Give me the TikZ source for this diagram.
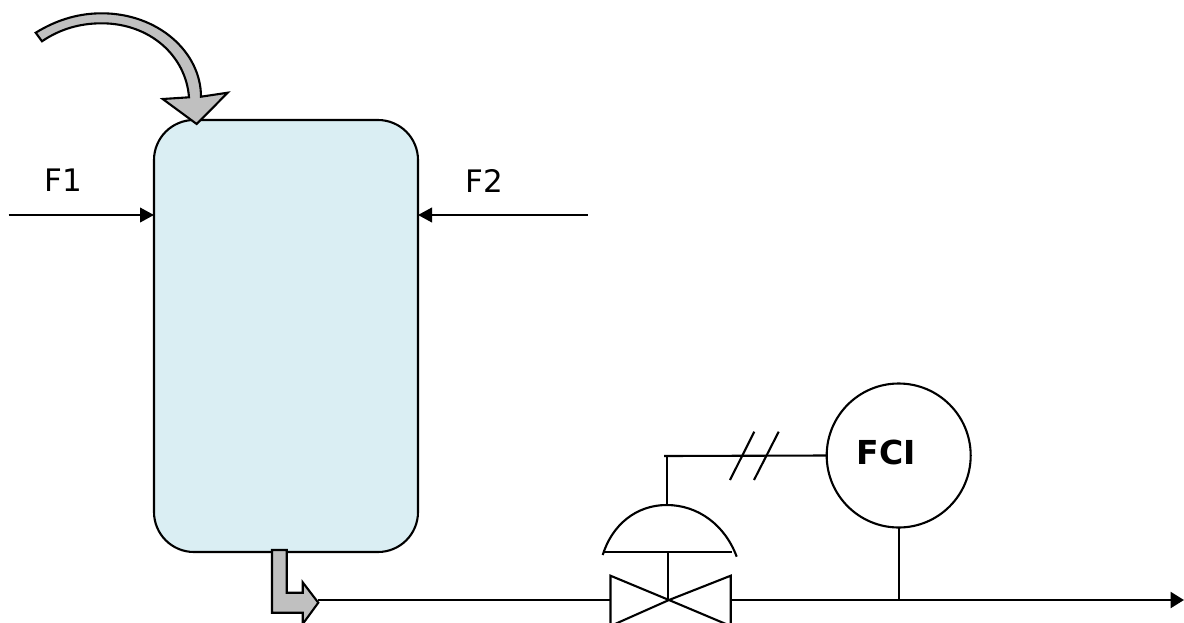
\documentclass[tikz,border=0pt]{standalone}
\usepackage{fontspec}
\setmainfont{DejaVu Sans}
\usetikzlibrary{arrows.meta}
\definecolor{tankblue}{HTML}{DAEEF3}
\definecolor{pipegrey}{HTML}{C0C0C0}
\tikzset{
  x=1pt,y=-1pt,
  line/.style={draw=black,line width=2.1pt},
  thinline/.style={draw=black,line width=1.9pt},
  flow/.style={line,line width=2.4pt,-{Triangle[length=14pt,width=14.5pt]}},
  block/.style={draw=black,line width=2.1pt,fill=pipegrey,line join=miter},
  tank/.style={draw=black,line width=2.1pt,fill=tankblue,rectangle,rounded corners=40pt,minimum width=264pt,minimum height=432pt,inner sep=0pt,outer sep=0pt},
  instr/.style={draw=black,line width=2.1pt,circle,minimum size=144pt,inner sep=0pt,outer sep=0pt},
  lbl/.style={font=\fontsize{31}{31}\selectfont,inner sep=0pt},
  lblb/.style={font=\fontsize{33}{33}\selectfont\bfseries,inner sep=0pt},
}
\begin{document}
\begin{tikzpicture}
\clip (0,0) rectangle (1184,622);
\fill[white] (0,0) rectangle (1184,622);
% tank
\node[tank] (tank) at (286,336) {};
% feed arrows
\coordinate (f1start) at (8.5,215);
\coordinate (f2start) at (587.5,215);
\draw[flow] (f1start) -- (tank.west |- f1start);
\draw[flow] (f2start) -- (tank.east |- f2start);
\node[lbl] (f1) at (63,180.5) {F1};
\node[lbl] (f2) at (484,180.5) {F2};
% curved block arrow
\draw[block] (35.7,32.7) .. controls (58,19) and (80,13.3) .. (101.7,13.3)
  .. controls (158,13.3) and (201,52) .. (201,96.7)
  -- (227.7,92.7) -- (196.7,124) -- (162.7,99) -- (189,97.3)
  .. controls (186,56) and (150,23.3) .. (101.7,23.3)
  .. controls (80,23.3) and (60,29) .. (42,41.3) -- cycle;
% outlet line
\coordinate (tip) at (318.3,600);
\coordinate (vleft) at (610.5,600);
\coordinate (vmid) at (669,600);
\coordinate (vright) at (730.7,600);
\coordinate (pend) at (1184,600);
\draw[line] (tip) -- (vleft);
% outlet block arrow
\draw[block] (272,550) -- (286.7,550) -- (286.7,592.7) -- (302.7,592.7) -- (302.7,582.3)
  -- (318.3,602.7) -- (302.7,624) -- (302.7,612.7) -- (272,612.7) -- cycle;
% valve
\draw[line] (vleft) -- (610.5,575.7) -- (vmid) -- (730.7,575.7) -- (vright) -- (730.7,626) -- (vmid) -- (610.5,626) -- cycle;
\coordinate (plate) at (668.3,552);
\draw[line] (plate) -- (668.3,600);
\draw[line] (603,552) -- (731.7,552);
\coordinate (dometop) at (666.7,505);
\draw[line] (602.7,555) .. controls (612,525) and (636,505) .. (dometop)
  .. controls (698,505) and (725,525) .. (736.7,556.7);
% instrument
\node[instr] (fci) at (898.7,455.5) {};
\node[lblb] (fcitext) at (886.2,452.3) {FCI};
\coordinate (corner) at (664,456);
\draw[line] (dometop) -- (666.7,456);
\draw[line] (corner) -- (fci.west);
\draw[line] (730,480) -- (754.3,431.7);
\draw[line] (754,480) -- (778.7,431.7);
% process line
\coordinate (tap) at (fci.south |- vmid);
\draw[thinline] (fci.south) -- (tap);
\draw[line,line width=2.6pt,-{Triangle[length=13.5pt,width=16pt]}] (vright) -- (pend);
\end{tikzpicture}
\end{document}
